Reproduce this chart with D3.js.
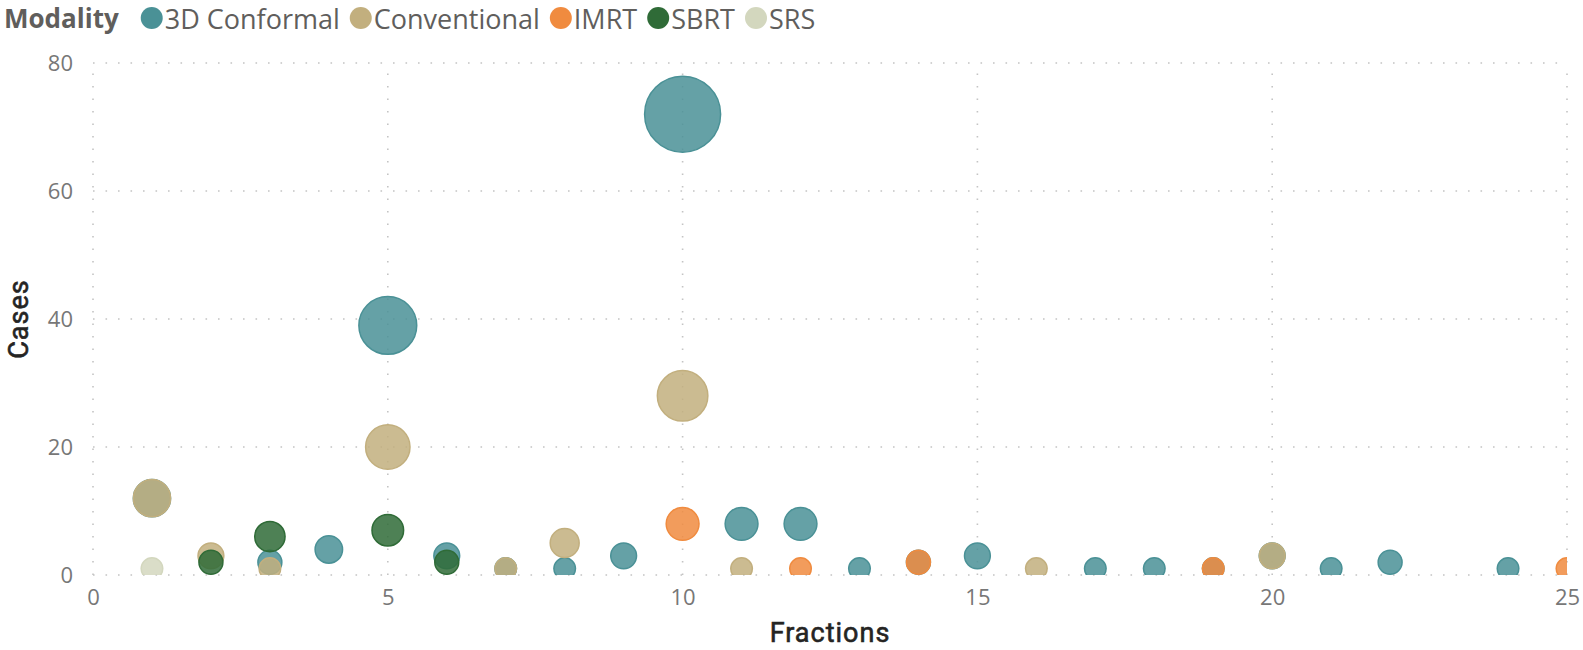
<!DOCTYPE html>
<html>
<head>
<meta charset="utf-8">
<script src="https://cdn.jsdelivr.net/npm/d3@7"></script>
<style>
  body { margin: 0; background: #fff; }
  svg { display: block; }
</style>
</head>
<body>
<svg id="chart"></svg>
<script>
// series data: [fractions, cases]
let modalities = ['3D Conformal', 'Conventional', 'IMRT', 'SBRT', 'SRS'];
let colors = ['#4a9196', '#c2af7e', '#f08b3f', '#2f6b37', '#d3d7be'];

let conformal = [[1, 12], [3, 2], [4, 4], [5, 39], [6, 3], [7, 1], [8, 1], [9, 3], [10, 72],
  [11, 8], [12, 8], [13, 1], [14, 2], [15, 3], [17, 1], [18, 1], [19, 1], [20, 3],
  [21, 1], [22, 2], [24, 1]];
let conventional = [[1, 12], [2, 3], [3, 1], [5, 20], [7, 1], [8, 5], [10, 28], [11, 1],
  [16, 1], [20, 3]];
let imrt = [[10, 8], [12, 1], [14, 2], [19, 1], [25, 1]];
let sbrt = [[2, 2], [3, 6], [5, 7], [6, 2]];
let srs = [[1, 1]];

let xTicks = [0, 5, 10, 15, 20, 25];
let yTicks = [0, 20, 40, 60, 80];

let seriesList = [conformal, conventional, imrt, sbrt, srs];

const w = 1583, h = 650;
let mar = { top: 63, right: 16, bottom: 75, left: 93 };

const svg = d3.select('#chart').attr('width', w).attr('height', h);

const xScale = d3.scaleLinear().domain([0, 25]).range([mar.left, w - mar.right]);
const yScale = d3.scaleLinear().domain([0, 80]).range([h - mar.bottom, mar.top]);
const rScale = d3.scalePow().exponent(0.6).domain([1, 72]).range([10.8, 38]);

const tickFont = '"Segoe UI", "Open Sans", sans-serif';

// gridlines (dotted)
const grid = svg.append('g');
grid.selectAll('.hgrid')
  .data(yTicks)
  .enter().append('line')
  .attr('x1', xScale(0)).attr('x2', xScale(25))
  .attr('y1', d => yScale(d)).attr('y2', d => yScale(d))
  .style('stroke', '#c4c4c4')
  .style('stroke-width', 1.6)
  .style('stroke-dasharray', '1.6,10.9');
grid.selectAll('.vgrid')
  .data(xTicks)
  .enter().append('line')
  .attr('x1', d => xScale(d)).attr('x2', d => xScale(d))
  .attr('y1', yScale(0)).attr('y2', yScale(80))
  .style('stroke', '#c4c4c4')
  .style('stroke-width', 1.6)
  .style('stroke-dasharray', '1.6,10.9');

// axes, labels only
const xAxis = svg.append('g')
  .attr('transform', 'translate(0,' + (yScale(0) + 8) + ')')
  .call(d3.axisBottom(xScale).tickValues(xTicks).tickSize(0).tickPadding(6));
const yAxis = svg.append('g')
  .attr('transform', 'translate(' + (mar.left - 20) + ',0)')
  .call(d3.axisLeft(yScale).tickValues(yTicks).tickSize(0).tickPadding(0));
[xAxis, yAxis].forEach(a => {
  a.select('.domain').remove();
  a.selectAll('text')
    .style('font-family', tickFont)
    .style('font-size', '22px')
    .style('fill', '#777');
});

// axis titles
svg.append('text')
  .attr('x', (xScale(0) + xScale(25)) / 2)
  .attr('y', h - 8)
  .attr('text-anchor', 'middle')
  .style('font-family', 'Roboto, sans-serif')
  .style('font-size', '27px')
  .style('letter-spacing', '1px')
  .style('fill', '#252423')
  .style('stroke', '#252423')
  .style('stroke-width', 0.6)
  .text('Fractions');
svg.append('text')
  .attr('transform', 'translate(' + 28 + ',' + ((yScale(0) + yScale(80)) / 2) + ') rotate(-90)')
  .attr('text-anchor', 'middle')
  .style('font-family', 'Roboto, sans-serif')
  .style('font-size', '27px')
  .style('letter-spacing', '1px')
  .style('fill', '#252423')
  .style('stroke', '#252423')
  .style('stroke-width', 0.6)
  .text('Cases');

// clip bubbles to plot area
svg.append('clipPath').attr('id', 'plotclip')
  .append('rect')
  .attr('x', xScale(0)).attr('y', 0)
  .attr('width', xScale(25) - xScale(0))
  .attr('height', yScale(0));

const bubbles = svg.append('g').attr('clip-path', 'url(#plotclip)');
seriesList.forEach((s, i) => {
  bubbles.append('g').selectAll('circle')
    .data(s)
    .enter().append('circle')
    .attr('cx', d => xScale(d[0]))
    .attr('cy', d => yScale(d[1]))
    .attr('r', d => rScale(d[1]))
    .style('fill', colors[i])
    .style('fill-opacity', 0.85)
    .style('stroke', colors[i])
    .style('stroke-width', 1.5);
});

// legend
const legend = svg.append('g').attr('transform', 'translate(4,18)');
const title = legend.append('text')
  .attr('x', 0).attr('y', 0)
  .attr('dominant-baseline', 'central')
  .style('font-family', tickFont)
  .style('font-weight', 700)
  .style('font-size', '26px')
  .style('fill', '#605e5c')
  .text('Modality');
let lx = title.node().getComputedTextLength() + 22;
modalities.forEach((m, i) => {
  legend.append('circle')
    .attr('cx', lx + 11).attr('cy', 0).attr('r', 11)
    .style('fill', colors[i]);
  const t = legend.append('text')
    .attr('x', lx + 24).attr('y', 0)
    .attr('dominant-baseline', 'central')
    .style('font-family', tickFont)
    .style('font-size', '27px')
    .style('fill', '#605e5c')
    .text(m);
  lx += 24 + t.node().getComputedTextLength() + 10;
});
</script>
</body>
</html>
